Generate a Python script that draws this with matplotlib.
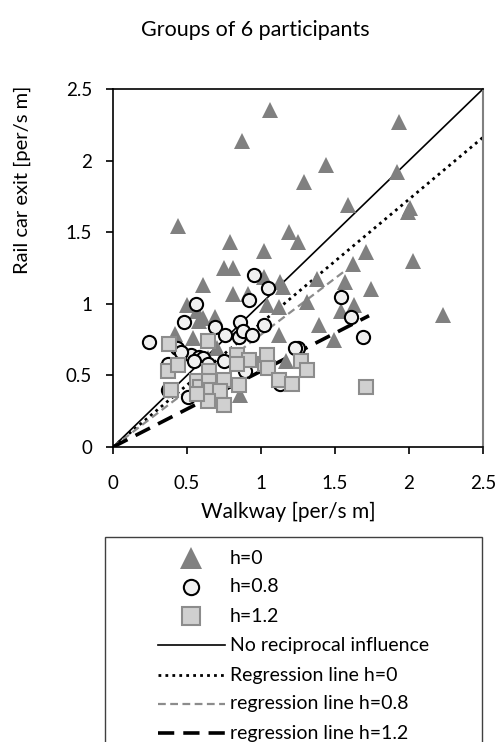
import matplotlib
matplotlib.use("Agg")
import matplotlib.pyplot as plt
from matplotlib.lines import Line2D
from matplotlib.patches import Rectangle
import numpy as np

plt.rcParams['font.family'] = ['Lato', 'DejaVu Sans']

# ---------------- data ----------------
h0_x = [1.06, 0.87, 1.93, 1.44, 1.29, 1.92, 1.59, 1.99, 2.01, 0.44, 0.79, 1.02,
        1.19, 1.25, 1.71, 1.62, 2.03, 1.38, 1.57, 1.74, 1.13, 1.15, 1.02, 1.31,
        1.04, 1.12, 1.63, 1.54, 2.23, 1.39, 1.49, 1.12, 1.17, 0.75, 0.81, 0.61,
        0.81, 0.50, 0.57, 0.61, 0.42, 0.54, 0.69, 0.91, 0.58, 0.70, 0.86, 0.64]
h0_y = [2.35, 2.14, 2.27, 1.97, 1.85, 1.92, 1.69, 1.64, 1.67, 1.54, 1.43, 1.37,
        1.50, 1.43, 1.36, 1.28, 1.30, 1.17, 1.15, 1.10, 1.15, 1.12, 1.19, 1.01,
        0.99, 0.98, 0.99, 0.95, 0.92, 0.85, 0.75, 0.78, 0.60, 1.25, 1.25, 1.13,
        1.07, 0.99, 0.95, 0.90, 0.79, 0.76, 0.91, 1.07, 0.88, 0.69, 0.36, 0.62]

h08_x = [0.24, 0.56, 0.48, 0.95, 1.05, 0.92, 0.69, 0.86, 0.76, 0.85, 0.88, 0.94,
         1.02, 0.43, 0.53, 0.58, 0.61, 0.75, 0.64, 0.89, 0.37, 0.37, 0.51, 1.13,
         1.25, 1.23, 1.54, 1.61, 1.69, 0.46, 0.55]
h08_y = [0.73, 1.00, 0.87, 1.20, 1.11, 1.03, 0.84, 0.87, 0.78, 0.77, 0.81, 0.78,
         0.85, 0.69, 0.64, 0.63, 0.62, 0.60, 0.58, 0.53, 0.58, 0.40, 0.35, 0.44,
         0.69, 0.69, 1.05, 0.91, 0.77, 0.66, 0.60]

h12_x = [0.38, 0.64, 0.37, 0.44, 0.39, 0.65, 0.57, 0.59, 0.65, 0.66, 0.75, 0.72,
         0.64, 0.75, 0.57, 0.85, 0.84, 0.92, 0.84, 1.03, 1.04, 1.05, 1.12, 1.21,
         1.27, 1.31, 1.71]
h12_y = [0.72, 0.74, 0.53, 0.57, 0.40, 0.53, 0.46, 0.42, 0.46, 0.40, 0.47, 0.39,
         0.32, 0.29, 0.37, 0.43, 0.64, 0.61, 0.58, 0.58, 0.64, 0.55, 0.47, 0.44,
         0.60, 0.54, 0.42]

# reference / regression lines (x range, slope)
ref_x = [0.0, 2.5]
reg_h0_x = [0.0, 2.5]
reg_h0_slope = 0.865
reg_h08_x = [0.0, 1.57]
reg_h08_slope = 0.785
reg_h12_x = [0.0, 1.73]
reg_h12_slope = 0.53

ticks = [0, 0.5, 1, 1.5, 2, 2.5]
tick_labels = ["0", "0.5", "1", "1.5", "2", "2.5"]

labels = ["h=0", "h=0.8", "h=1.2", "No reciprocal influence",
          "Regression line h=0", "regression line h=0.8", "regression line h=1.2"]

# ---------------- figure ----------------
W, H = 499, 742
fig = plt.figure(figsize=(W / 100, H / 100), dpi=100)
ax = fig.add_axes([113 / W, 1 - 447 / H, (483 - 113) / W, (447 - 89) / H])

ax.set_xlim(0, 2.5)
ax.set_ylim(0, 2.5)

tri_c = '#808080'
circ_fc, circ_ec = '#f0f0f0', '#000000'
sq_fc, sq_ec = '#d0d0d0', '#8c8c8c'

styles = [
    dict(linestyle='none', marker='^', mfc=tri_c, mec=tri_c, mew=0),
    dict(linestyle='none', marker='o', mfc=circ_fc, mec=circ_ec, mew=1.5),
    dict(linestyle='none', marker='s', mfc=sq_fc, mec=sq_ec, mew=1.5),
    dict(color='black', lw=1.2, linestyle='-'),
    dict(color='black', lw=2.0, linestyle=(0, (1, 1.5))),
    dict(color='#8c8c8c', lw=1.6, linestyle=(0, (3.5, 2))),
    dict(color='black', lw=2.6, linestyle=(0, (4.5, 2.5))),
]

# lines
ax.plot(ref_x, ref_x, zorder=2, **styles[3])
xs = np.array(reg_h0_x)
ax.plot(xs, reg_h0_slope * xs, zorder=2, **styles[4])
xs = np.array(reg_h08_x)
ax.plot(xs, reg_h08_slope * xs, zorder=2, **styles[5])
xs = np.array(reg_h12_x)
ax.plot(xs, reg_h12_slope * xs, zorder=2, **styles[6])

# markers
ax.plot(h0_x, h0_y, ms=11.5, zorder=3, **styles[0])
ax.plot(h08_x, h08_y, ms=9.5, zorder=4, **styles[1])
ax.plot(h12_x, h12_y, ms=9.5, zorder=5, **styles[2])

ax.set_xticks(ticks)
ax.set_xticklabels(tick_labels)
ax.set_yticks(ticks)
ax.set_yticklabels(tick_labels)
ax.tick_params(axis='both', direction='out', length=5, width=1.2, labelsize=13.5, colors='black')
ax.tick_params(axis='x', pad=15)
ax.tick_params(axis='y', pad=10)

for s in ['left', 'bottom', 'top']:
    ax.spines[s].set_color('black')
    ax.spines[s].set_linewidth(1.2)
ax.spines['right'].set_color('#808080')
ax.spines['right'].set_linewidth(1.5)

# texts
fig.text(255 / W, 1 - 36 / H, "Groups of 6 participants", ha='center', va='baseline', fontsize=15.5)
fig.text(288 / W, 1 - 518 / H, "Walkway [per/s m]", ha='center', va='baseline', fontsize=15)
fig.text(22 / W, 1 - 180 / H, "Rail car exit [per/s m]", ha='center', va='center',
         rotation=90, fontsize=14.5)

# legend (drawn at fixed positions inside a framed box)
row_y = [558, 587, 616, 645, 675, 704, 733]
marker_ms = [16, 11, 13]
for i, (lab, st) in enumerate(zip(labels, styles)):
    yy = 1 - row_y[i] / H
    if i < 3:
        fig.add_artist(Line2D([191 / W], [yy], transform=fig.transFigure, ms=marker_ms[i], **st))
    else:
        fig.add_artist(Line2D([158 / W, 225 / W], [yy, yy], transform=fig.transFigure, **st))
    fig.text(230 / W, yy, lab, ha='left', va='center', fontsize=14)
fig.patches.append(Rectangle((105 / W, -0.05), (482 - 105) / W, (1 - 537 / H) + 0.05,
                             transform=fig.transFigure, fill=False, edgecolor='#404040', lw=1.0))

fig.savefig("out.png", dpi=100)
